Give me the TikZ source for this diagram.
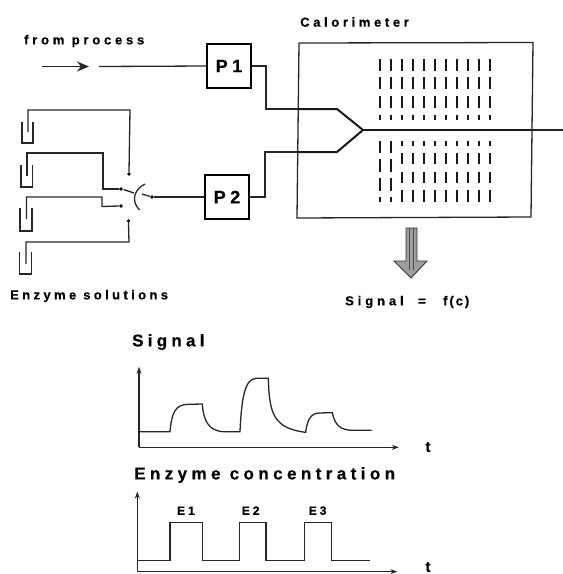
\documentclass[tikz,border=0pt]{standalone}
\usepackage{fontspec}
\setmainfont{Liberation Sans}[BoldFont={Liberation Sans Bold}]
\usetikzlibrary{arrows.meta}
\newcommand{\lsp}[2]{\bfseries\addfontfeature{LetterSpace=#1,FakeBold=0.4}#2}
\tikzset{
  wire/.style={line width=1.3pt,black!85},
  thickwire/.style={line width=2pt,black!90},
  pumpbox/.style={draw,line width=1.3pt,minimum width=44pt,minimum height=44pt,inner sep=0pt,font=\fontsize{18}{18}\selectfont},
  lab/.style={inner sep=0pt,anchor=west,font=\fontsize{13}{15}\selectfont},
  bigl/.style={inner sep=0pt,anchor=west,font=\fontsize{17}{19}\selectfont},
  junction/.style={circle,fill=black,inner sep=0pt,minimum size=3.8pt},
  axis/.style={line width=1.3pt,black!85,-{Stealth[length=7pt,width=5pt]}},
  curve/.style={line width=1.3pt,black!85},
  bar/.style={line width=1.8pt,black!90},
  beaker/.style={line width=1.3pt,black!85}
}
\begin{document}
\begin{tikzpicture}[x=1pt,y=-1pt]
\useasboundingbox (0,0) rectangle (563,574);
% labels
\node[lab] (fp) at (24,41) {\lsp{29}{from process}};
\node[lab] (cal) at (300,22) {\lsp{28}{Calorimeter}};
\node[lab] (es) at (10,296) {\lsp{26}{Enzyme solutions}};
\node[lab] (sf) at (345,302) {\lsp{30}{Signal}};
\node[lab] (sfeq) at (418,302) {\lsp{0}{=}};
\node[lab] (sfc) at (443,302) {\lsp{15}{f(c)}};
\node[bigl] (sg) at (132,342) {\lsp{25}{Signal}};
\node[bigl] (ec) at (134,475) {\lsp{26}{Enzyme concentration}};
% pumps
\node[pumpbox] (P1) at (229,66) {\lsp{25}{P1}};
\node[pumpbox] (P2) at (227,197) {\lsp{25}{P2}};
% calorimeter
\draw[line width=1.3pt,black!85] (299,43) -- (533,42.5) -- (531,217) -- (297,218) -- cycle;
% flow lines
\coordinate (in1) at (42,66.5);
\coordinate (in2) at (89,66.5);
\coordinate (in3) at (99,66.5);
\draw[wire,-{Stealth[length=12pt,width=10pt]}] (in1) -- (in2);
\draw[wire] (in3) -- (P1.west);
\coordinate (j1) at (266,109);
\coordinate (j2) at (265,152);
\coordinate (b1) at (337,109);
\coordinate (b2) at (337,152);
\coordinate (mix) at (363,130);
\coordinate (exitc) at (532,130);
\coordinate (exit) at (563,130);
\draw[wire] (P1.east) -| (j1) -- (298,109);
\draw[wire] (P2.east) -| (j2) -- (298,152);
\draw[thickwire,line join=round] (298,109) -- (b1) -- (mix) -- (b2) -- (298,152);
\draw[thickwire] (mix) -- (exitc);
\draw[wire] (exitc) -- (exit);
% dashes upper
\foreach \i in {0,...,10}{
  \pgfmathsetmacro{\xx}{380+11*\i}
  \draw[bar] (\xx,59) -- (\xx,71);
  \draw[bar] (\xx,77) -- (\xx,89);
  \draw[bar] (\xx,96) -- (\xx,108);
  \draw[bar] (\xx,114.5) -- (\xx,120);
}
% dashes lower
\foreach \xx in {380,391}{
  \draw[bar] (\xx,141) -- (\xx,153);
  \draw[bar] (\xx,159) -- (\xx,172);
  \draw[bar] (\xx,178) -- (\xx,191);
  \draw[bar] (\xx,197) -- (\xx,202);
}
\foreach \i in {0,...,8}{
  \pgfmathsetmacro{\xx}{402+11*\i}
  \draw[bar] (\xx,140.5) -- (\xx,146);
  \draw[bar] (\xx,153) -- (\xx,164);
  \draw[bar] (\xx,172) -- (\xx,183);
  \draw[bar] (\xx,190) -- (\xx,202);
}
% grey arrow
\draw[line width=.9pt,black!80,fill=black!38,line join=miter]
  (406,228) -- (417,228) -- (417,261) -- (427,261) -- (411,278) -- (394,261) -- (406,261) -- cycle;
\draw[line width=.6pt,black!70] (409.5,228) -- (409.5,270);
\draw[line width=.6pt,black!70] (413.5,228) -- (413.5,270);
% beakers
\foreach \xa/\xb/\ya/\yb in {22/33/122/143, 21/32.5/165/187, 20/32/208/231, 19.5/31.5/252/274}{
  \draw[beaker] (\xa,\ya) -- (\xa,\yb) -- (\xb,\yb) -- (\xb,\ya);
}
% switch contacts
\node[junction] (c1) at (129,174) {};
\node[junction] (c2) at (121,189) {};
\node[junction] (c3) at (121,206) {};
\node[junction] (c4) at (128.5,221) {};
\node[junction] (c0) at (152,197) {};
\draw[wire] (28,132) -- (28,110) -- (130,110) -- (c1.north);
\draw[wire] (27,176) -- (27,153) -- (103,153) -- (103,189) -- (c2.west);
\draw[wire] (26.5,219) -- (26.5,197) -- (102,197) -- (102,206.5) -- (c3.west);
\draw[wire] (26,264) -- (26,242) -- (129,242) -- (c4.south);
\draw[wire] (c0.east) -- (P2.west);
\coordinate (bl1) at (123.5,189.5);
\coordinate (bl2) at (134,193);
\coordinate (bl3) at (142,194);
\draw[wire] (bl1) -- (bl2);
\draw[wire] (bl3) -- (c0);
\draw[wire] (145,184) .. controls (135,189) and (130,200) .. (139.5,210);
% signal plot
\begin{scope}[shift={(120,320)},x=.3333pt,y=-.3333pt]
\coordinate (so) at (57,382);
\coordinate (sy) at (57,140);
\coordinate (sx) at (837,382);
\draw[axis] (so) -- (sy);
\draw[axis] (so) -- (sx);
\draw[curve] (57,335) -- (150,335)
  .. controls (155,280) and (165,253) .. (205,253) -- (247,252)
  .. controls (250,300) and (265,333) .. (310,335) -- (360,335)
  .. controls (365,230) and (375,175) .. (410,175) -- (445,175)
  .. controls (448,280) and (460,325) .. (557,337)
  .. controls (562,295) and (575,279) .. (600,279) -- (637,278)
  .. controls (645,315) and (660,331) .. (700,331) -- (755,331);
\coordinate (eo) at (52,755);
\coordinate (ey) at (52,515);
\coordinate (ex) at (832,755);
\draw[axis] (eo) -- (ey);
\draw[axis] (eo) -- (ex);
\draw[curve,line join=miter] (50,722) -- (150,722) -- (150,608) -- (248,608) -- (248,722) -- (358,722) -- (358,608) -- (438,608) -- (438,722) -- (553,722) -- (553,608) -- (635,608) -- (635,722) -- (750,722);
\node[inner sep=0pt,font=\fontsize{12}{14}\selectfont] (e1) at (198,572) {\lsp{25}{E1}};
\node[inner sep=0pt,font=\fontsize{12}{14}\selectfont] (e2) at (392,572) {\lsp{25}{E2}};
\node[inner sep=0pt,font=\fontsize{12}{14}\selectfont] (e3) at (593,572) {\lsp{25}{E3}};
\end{scope}
\node[inner sep=0pt,font=\fontsize{15}{16}\selectfont] (t1) at (428,447) {\lsp{0}{t}};
\node[inner sep=0pt,font=\fontsize{15}{16}\selectfont] (t2) at (428,567) {\lsp{0}{t}};
\end{tikzpicture}
\end{document}
